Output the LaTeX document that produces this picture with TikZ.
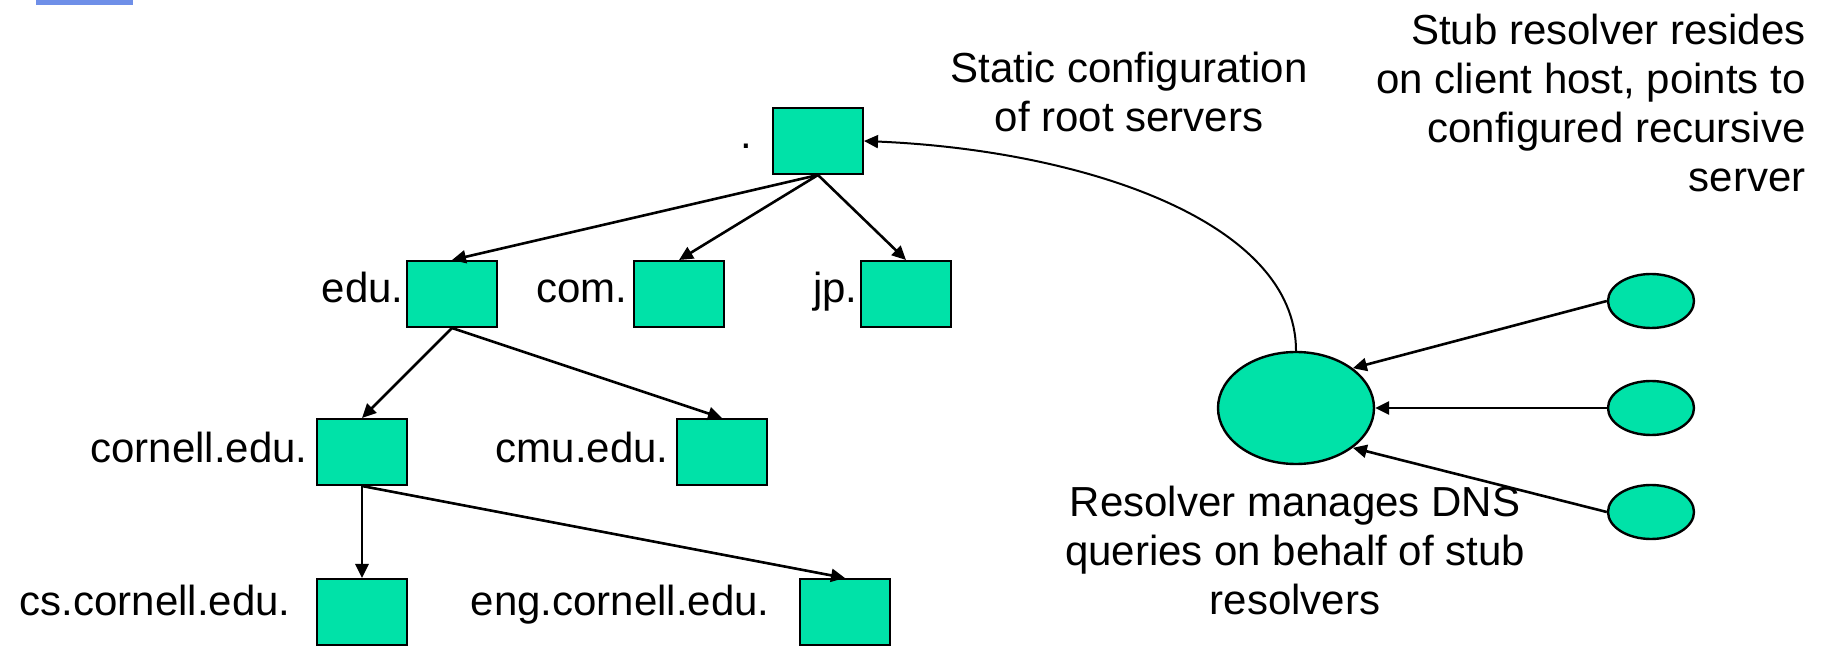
\documentclass[tikz,border=0pt]{standalone}
\usepackage{fontspec}
\setmainfont{Liberation Sans}
\usetikzlibrary{arrows.meta,shapes.geometric}
\definecolor{zonefill}{RGB}{0,226,168}
\definecolor{barblue}{RGB}{111,143,232}
\begin{document}
\begin{tikzpicture}[x=0.5pt,y=-0.5pt,
  zone/.style={draw=black, line width=1pt, fill=zonefill,
    minimum width=45pt, minimum height=33pt, inner sep=0pt},
  lbl/.style={anchor=base east, inner sep=0pt, font=\fontsize{21}{24}\selectfont},
  note/.style={inner sep=0pt, font=\fontsize{21}{24.5}\selectfont},
  link/.style={-{Triangle[length=7pt,width=6.5pt]}, line width=1.3pt},
  host/.style={ellipse, draw=black, line width=1.2pt, fill=zonefill, inner sep=0pt}
]
\useasboundingbox (0,0) rectangle (1832,646);

% title bar fragment
\fill[barblue] (36,0) rectangle (133,5);

% DNS name tree
\node[zone] (root) at (818,141) {};
\node[zone] (edu) at (452,294) {};
\node[zone] (com) at (679,294) {};
\node[zone] (jp) at (906,294) {};
\node[zone] (cornell) at (362,452) {};
\node[zone] (cmu) at (722,452) {};
\node[zone] (cs) at (362,612) {};
\node[zone] (eng) at (845,612) {};

\node[lbl] (root-l) at (753,149) {.};
\node[lbl] (edu-l) at (404,303) {edu.};
\node[lbl] (com-l) at (628,303) {com.};
\node[lbl] (jp-l) at (858,303) {jp.};
\node[lbl] (cornell-l) at (308,463) {cornell.edu.};
\node[lbl] (cmu-l) at (669,463) {cmu.edu.};
\node[lbl] (cs-l) at (291,615) {cs.cornell.edu.};
\node[lbl] (eng-l) at (770,615) {eng.cornell.edu.};

\draw[link] (root.south) -- (edu.north);
\draw[link] (root.south) -- (com.north);
\draw[link] (root.south) -- (jp.north);
\draw[link] (edu.south) -- (cornell.north);
\draw[link] (edu.south) -- (cmu.north);
\draw[link] (cornell.south) -- (cs.north);
\draw[link] (cornell.south) -- (eng.north);

% recursive resolver and stub resolvers
\node[host, minimum width=78pt, minimum height=56pt] (res) at (1296,408) {};
\node[host, minimum width=43pt, minimum height=27pt] (stubA) at (1651,301) {};
\node[host, minimum width=43pt, minimum height=27pt] (stubB) at (1651,408) {};
\node[host, minimum width=43pt, minimum height=27pt] (stubC) at (1651,512) {};

\draw[link] (stubA.west) -- (res.35);
\draw[link] (stubB.west) -- (res.east);
\draw[link] (stubC.west) -- (res.-35);

\draw[line width=1pt, -{Triangle[length=7pt,width=6.5pt]}]
  (res.north) .. controls (1296,220) and (1080,150) .. (root.east);

% annotations (base anchor sits on the last line)
\node[note, align=center, anchor=base] (static-note) at (1129,132)
  {Static configuration\\of root servers};
\node[note, align=right, anchor=base east] (stub-note) at (1806,192)
  {Stub resolver resides\\on client host, points to\\configured recursive\\server};
\node[note, align=center, anchor=base] (res-note) at (1295,614)
  {Resolver manages DNS\\queries on behalf of stub\\resolvers};
\end{tikzpicture}
\end{document}
